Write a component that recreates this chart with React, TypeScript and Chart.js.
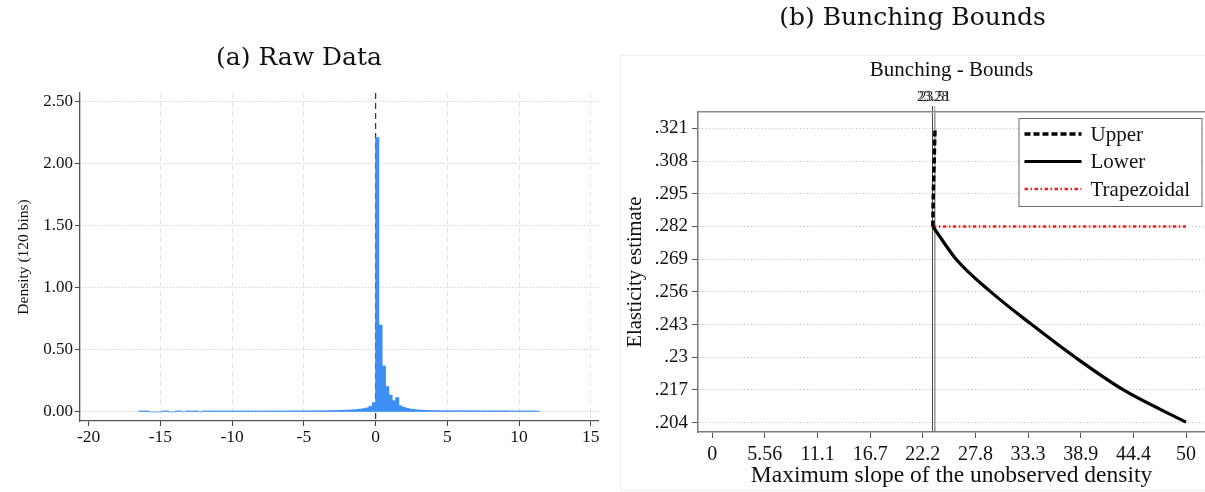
import React, { useEffect, useRef } from "react";
import { Chart, registerables } from "chart.js";

Chart.register(...registerables);

const SERIF = '"Liberation Serif", "Times New Roman", Times, serif';
const CAPTION_FONT = '"DejaVu Serif", serif';

// ---------------- (a) Raw data histogram ----------------
const histTitle = "(a) Raw Data";
const histYAxisTitle = "Density (120 bins)";
const histBinStart = -16.51;
const histBinWidth = 0.2325;
const histDensity = [
  0.008, 0.008, 0.008, 0, 0, 0, 0, 0.008, 0.008, 0, 0, 0.008, 0.008, 0, 0.008, 0.008, 0.008, 0.008, 0, 0.008, 0.008,
  0.008, 0.008, 0.008, 0.008, 0.008, 0.008, 0.008, 0.008, 0.008, 0.008,
  0.008, 0.008, 0.008, 0.008, 0.008, 0.008, 0.008, 0.008, 0.008, 0.008,
  0.008, 0.008, 0.008, 0.008, 0.008, 0.009, 0.009, 0.009, 0.009, 0.009,
  0.009, 0.009, 0.01, 0.01, 0.01, 0.011, 0.011, 0.012, 0.012, 0.013,
  0.014, 0.015, 0.016, 0.018, 0.02, 0.023, 0.027, 0.033, 0.045, 0.075,
  2.21, 0.7, 0.37, 0.205, 0.135, 0.09, 0.116, 0.05, 0.037, 0.029,
  0.024, 0.02, 0.017, 0.015, 0.014, 0.013, 0.012, 0.011, 0.011, 0.01,
  0.01, 0.01, 0.01, 0.01, 0.01, 0.01, 0.01, 0.01, 0.01, 0.01,
  0.009, 0.009, 0.009, 0.009, 0.009, 0.009, 0.009, 0.009, 0.009, 0.009,
  0.008, 0.008, 0.008, 0.008, 0.008, 0.008, 0.008, 0.008, 0.008,
];
const histXTicks = [-20, -15, -10, -5, 0, 5, 10, 15];
const histXTickLabels = ["-20", "-15", "-10", "-5", "0", "5", "10", "15"];
const histYTicks = [0, 0.5, 1, 1.5, 2, 2.5];
const histYTickLabels = ["0.00", "0.50", "1.00", "1.50", "2.00", "2.50"];
const histThreshold = 0;

// ---------------- (b) Bunching bounds ----------------
const boundsTitle = "(b) Bunching Bounds";
const boundsSubtitle = "Bunching - Bounds";
const boundsXTitle = "Maximum slope of the unobserved density";
const boundsYTitle = "Elasticity estimate";
const upperX = [23.28, 23.33, 23.42, 23.51];
const upperY = [0.282, 0.295, 0.308, 0.321];
const lowerX = [23.28, 25.74, 29.4, 33.72, 38.3, 43.4, 50];
const lowerY = [0.282, 0.269, 0.256, 0.243, 0.23, 0.217, 0.2042];
const trapX = [23.28, 50];
const trapY = [0.282, 0.282];
const vlineValues = [23.28, 23.51];
const vlineLabels = ["23.28", "23.51"];
const boundsXTicks = [0, 5.556, 11.111, 16.667, 22.222, 27.778, 33.333, 38.889, 44.444, 50];
const boundsXTickLabels = ["0", "5.56", "11.1", "16.7", "22.2", "27.8", "33.3", "38.9", "44.4", "50"];
const boundsYTicks = [0.204, 0.217, 0.23, 0.243, 0.256, 0.269, 0.282, 0.295, 0.308, 0.321];
const boundsYTickLabels = [".204", ".217", ".23", ".243", ".256", ".269", ".282", ".295", ".308", ".321"];

const zeroLinePlugin = {
  id: "zeroLine",
  beforeDatasetsDraw(chart: any) {
    const { ctx, chartArea } = chart;
    const x = chart.scales.x.getPixelForValue(histThreshold);
    ctx.save();
    ctx.strokeStyle = "#3a3a3a";
    ctx.lineWidth = 1.3;
    ctx.setLineDash([6, 4]);
    ctx.beginPath();
    ctx.moveTo(x, chartArea.top);
    ctx.lineTo(x, chartArea.bottom);
    ctx.stroke();
    ctx.restore();
  },
};

const boxLegendPlugin = {
  id: "boxLegend",
  afterDraw(chart: any) {
    const { ctx, chartArea } = chart;
    const ds = chart.data.datasets;
    const w = 183;
    const h = 88;
    const rowH = 27.5;
    const left = chartArea.right - w - 3.5;
    const top = chartArea.top + 6;
    ctx.save();
    ctx.fillStyle = "#ffffff";
    ctx.fillRect(left, top, w, h);
    ctx.strokeStyle = "#6a6a6a";
    ctx.lineWidth = 1;
    ctx.strokeRect(left + 0.5, top + 0.5, w, h);
    ctx.font = `21px ${SERIF}`;
    ctx.textBaseline = "middle";
    ds.forEach((d: any, i: number) => {
      const y = top + 16 + i * rowH;
      ctx.beginPath();
      ctx.setLineDash(d.borderDash || []);
      ctx.strokeStyle = d.borderColor;
      ctx.lineWidth = d.borderWidth;
      ctx.moveTo(left + 6, y);
      ctx.lineTo(left + 63, y);
      ctx.stroke();
      ctx.setLineDash([]);
      ctx.fillStyle = "#111";
      ctx.fillText(d.label, left + 72, y + 1);
    });
    ctx.restore();
  },
};

function HistChart() {
  const ref = useRef<HTMLCanvasElement>(null);
  useEffect(() => {
    const data = histDensity.map((d, i) => ({ x: histBinStart + (i + 0.5) * histBinWidth, y: d }));
    const chart = new Chart(ref.current as HTMLCanvasElement, {
      type: "bar",
      data: {
        datasets: [
          {
            label: "Density",
            data,
            backgroundColor: "#3d8ef5",
            borderWidth: 0,
            barPercentage: 1,
            categoryPercentage: 1,
          } as any,
        ],
      },
      options: {
        animation: false,
        responsive: false,
        events: [],
        layout: { padding: { left: 0, right: 22, top: 0, bottom: 0 } },
        plugins: {
          legend: { display: false },
          tooltip: { enabled: false },
          title: {
            display: true,
            text: histTitle,
            color: "#111",
            font: { family: CAPTION_FONT, size: 25, weight: "normal" as any },
            padding: { top: 43, bottom: 20 },
          },
        },
        scales: {
          x: {
            type: "linear",
            offset: false,
            min: -20.6,
            max: 15.5,
            afterBuildTicks: (s: any) => {
              s.ticks = histXTicks.map((v) => ({ value: v }));
            },
            afterFit: (s: any) => {
              s.height = 71;
            },
            ticks: {
              autoSkip: false,
              maxRotation: 0,
              padding: 1,
              color: "#111",
              font: { family: SERIF, size: 17.5 },
              callback: (_v: any, i: number) => histXTickLabels[i],
            },
            grid: {
              offset: false,
              color: (c: any) =>
                c.tick && (c.tick.value === histThreshold || c.tick.value === -20) ? "rgba(0,0,0,0)" : "#e4e4e4",
              lineWidth: 1,
              tickLength: 5,
              tickColor: "#444",
              tickWidth: 1,
              tickBorderDash: [],
            },
            border: { display: true, color: "#555", width: 1.3, dash: [5, 4] },
          },
          y: {
            min: -0.073,
            max: 2.57,
            afterBuildTicks: (s: any) => {
              s.ticks = histYTicks.map((v) => ({ value: v }));
            },
            afterFit: (s: any) => {
              s.width = 80;
            },
            ticks: {
              padding: 2,
              color: "#111",
              font: { family: SERIF, size: 17 },
              callback: (_v: any, i: number) => histYTickLabels[i],
            },
            grid: {
              color: "#c4c4c4",
              lineWidth: 1,
              tickLength: 5,
              tickColor: "#444",
              tickWidth: 1,
              tickBorderDash: [],
            },
            border: { display: true, color: "#555", width: 1.3, dash: [1, 2] },
            title: {
              display: true,
              text: histYAxisTitle,
              color: "#111",
              font: { family: SERIF, size: 15.5 },
              padding: { top: 15, bottom: 0 },
            },
          },
        },
      },
      plugins: [zeroLinePlugin],
    } as any);
    return () => chart.destroy();
  }, []);
  return (
    <canvas
      ref={ref}
      width={620}
      height={492}
      style={{ position: "absolute", left: 0, top: 0, width: 620, height: 492 }}
    />
  );
}

function BoundsChart() {
  const ref = useRef<HTMLCanvasElement>(null);
  useEffect(() => {
    const toPts = (xs: number[], ys: number[]) => xs.map((x, i) => ({ x, y: ys[i] }));
    const vlineColors = ["#4a4a4a", "#9a9a9a"];
    const vlineWidths = [1, 1.6];
    const chart = new Chart(ref.current as HTMLCanvasElement, {
      type: "line",
      data: {
        datasets: [
          {
            label: "Upper",
            data: toPts(upperX, upperY),
            borderColor: "#000000",
            borderWidth: 3.5,
            borderDash: [6, 3],
            pointRadius: 0,
            fill: false,
          },
          {
            label: "Lower",
            data: toPts(lowerX, lowerY),
            borderColor: "#000000",
            borderWidth: 3.2,
            cubicInterpolationMode: "monotone",
            pointRadius: 0,
            fill: false,
          },
          {
            label: "Trapezoidal",
            data: toPts(trapX, trapY),
            borderColor: "#ff1a1a",
            borderWidth: 2.5,
            borderDash: [3.5, 2.5, 1.5, 2.5],
            pointRadius: 0,
            fill: false,
          },
        ],
      },
      options: {
        animation: false,
        responsive: false,
        events: [],
        layout: { padding: 0 },
        plugins: {
          legend: { display: false },
          tooltip: { enabled: false },
          title: {
            display: true,
            text: boundsTitle,
            color: "#111",
            font: { family: CAPTION_FONT, size: 25, weight: "normal" as any },
            padding: { top: 3, bottom: 24.4 },
          },
          subtitle: {
            display: true,
            text: boundsSubtitle,
            fullSize: false,
            color: "#111",
            font: { family: SERIF, size: 21 },
            padding: { top: 0, bottom: 0 },
          },
        },
        scales: {
          x: {
            type: "linear",
            position: "bottom",
            min: -1.5,
            max: 52,
            afterBuildTicks: (s: any) => {
              s.ticks = boundsXTicks.map((v) => ({ value: v }));
            },
            afterFit: (s: any) => {
              s.height = 60;
            },
            ticks: {
              autoSkip: false,
              maxRotation: 0,
              padding: 5,
              color: "#111",
              font: { family: SERIF, size: 20 },
              callback: (_v: any, i: number) => boundsXTickLabels[i],
            },
            grid: {
              drawOnChartArea: false,
              tickLength: 6,
              tickColor: "#555",
              tickWidth: 1,
            },
            border: { display: true, color: "#7a7a7a", width: 1.5 },
            title: {
              display: true,
              text: boundsXTitle,
              color: "#111",
              font: { family: SERIF, size: 23.5 },
              padding: { top: 0, bottom: 1.6 },
            },
          },
          x2: {
            type: "linear",
            position: "top",
            min: -1.5,
            max: 52,
            afterBuildTicks: (s: any) => {
              s.ticks = vlineValues.map((v) => ({ value: v }));
            },
            afterFit: (s: any) => {
              s.height = 29.4;
            },
            ticks: {
              autoSkip: false,
              maxRotation: 0,
              padding: 0,
              color: "#222",
              font: { family: SERIF, size: 14 },
              callback: (_v: any, i: number) => vlineLabels[i],
            },
            grid: {
              color: (c: any) => vlineColors[c.index] || "#777",
              lineWidth: (c: any) => vlineWidths[c.index] || 1,
              tickLength: 6,
              tickColor: (c: any) => vlineColors[c.index] || "#777",
              tickWidth: 1,
            },
            border: { display: true, color: "#8a8a8a", width: 1.5 },
          },
          y: {
            min: 0.2003,
            max: 0.3275,
            afterBuildTicks: (s: any) => {
              s.ticks = boundsYTicks.map((v) => ({ value: v }));
            },
            afterFit: (s: any) => {
              s.width = 78;
            },
            ticks: {
              padding: 4,
              color: "#111",
              font: { family: SERIF, size: 19 },
              callback: (_v: any, i: number) => boundsYTickLabels[i],
            },
            grid: {
              color: "#bdbdbd",
              lineWidth: 1,
              tickLength: 6,
              tickColor: "#555",
              tickWidth: 1,
              tickBorderDash: [],
            },
            border: { display: true, color: "#7a7a7a", width: 1.5, dash: [1, 2.5] },
            title: {
              display: true,
              text: boundsYTitle,
              color: "#111",
              font: { family: SERIF, size: 20.5 },
              padding: { top: 3.7, bottom: 0 },
            },
          },
        },
      },
      plugins: [boxLegendPlugin],
    } as any);
    return () => chart.destroy();
  }, []);
  return (
    <canvas
      ref={ref}
      width={585}
      height={492}
      style={{ position: "absolute", left: 620, top: 0, width: 585, height: 492 }}
    />
  );
}

export default function App() {
  return (
    <div
      style={{
        position: "absolute",
        left: 0,
        top: 0,
        width: 1205,
        height: 492,
        overflow: "hidden",
        background: "#ffffff",
      }}
    >
      <div
        style={{
          position: "absolute",
          left: 620,
          top: 55,
          width: 584,
          height: 434,
          border: "1px solid #efefef",
        }}
      />
      <HistChart />
      <BoundsChart />
    </div>
  );
}
